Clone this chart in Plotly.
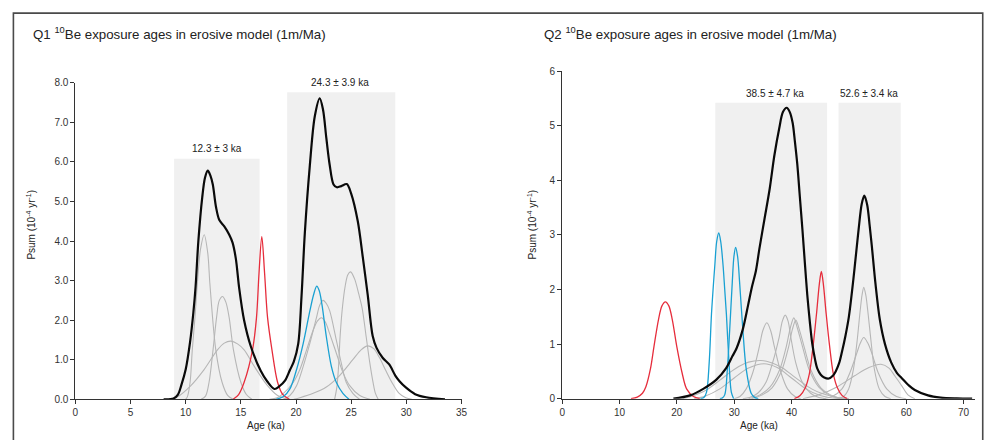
import plotly.graph_objects as go

# ---------------- Q1 data (ages in ka, Psum in 1e-4/yr) ----------------
q1_black_x = [8.0, 8.9, 9.3, 9.6, 10.0, 10.4, 10.7, 10.9, 11.15, 11.5, 11.75, 12.0, 12.25, 12.46, 12.75,
              13.05, 13.5, 13.95, 14.25, 14.55, 14.85, 15.3, 15.9, 16.8, 17.4, 18.05, 18.5, 19.0, 19.45,
              19.8, 20.2, 20.5, 20.8, 21.25, 21.7, 22.15, 22.45, 22.75, 23.05, 23.4, 23.7, 24.1, 24.6,
              25.0, 25.6, 26.05, 26.5, 26.95, 27.3, 27.85, 28.45, 29.0, 29.4, 29.95, 30.8, 31.8, 33.5]
q1_black_y = [0, 0.02, 0.12, 0.35, 0.75, 1.45, 2.2, 2.85, 4.0, 5.1, 5.6, 5.78, 5.65, 5.43, 4.86,
              4.53, 4.37, 4.16, 3.96, 3.55, 2.81, 1.99, 1.34, 0.72, 0.45, 0.26, 0.33, 0.47, 0.74,
              0.95, 1.4, 2.6, 4.2, 5.9, 7.15, 7.61, 7.32, 6.6, 5.93, 5.43, 5.36, 5.39, 5.44,
              5.2, 4.5, 3.6, 2.64, 1.6, 1.3, 1.05, 0.88, 0.6, 0.45, 0.3, 0.13, 0.05, 0]

q1_red_x = [[14.3, 14.8, 15.3, 16.06, 16.42, 16.65, 16.9, 17.15, 17.42, 17.82, 18.33, 18.8, 19.4]]
q1_red_y = [[0, 0.12, 0.43, 1.25, 2.07, 3.2, 4.11, 3.2, 2.07, 1.25, 0.43, 0.12, 0]]

q1_blue_x = [[18.2, 18.86, 19.46, 20.06, 20.66, 21.26, 21.6, 21.88, 22.1, 22.35, 22.75, 23.2, 23.65, 24.25, 24.8]]
q1_blue_y = [[0, 0.07, 0.27, 0.76, 1.42, 2.24, 2.65, 2.86, 2.75, 2.4, 1.58, 0.84, 0.43, 0.15, 0]]

q1_gray_x = [
    [10.0, 10.15, 10.4, 10.6, 10.85, 11.05, 11.35, 11.68, 12.0, 12.2, 12.73, 13.3, 13.8, 14.3],
    [11.4, 11.8, 12.12, 12.48, 12.8, 13.05, 13.35, 13.65, 13.94, 14.33, 15.0, 15.5, 16.0],
    [8.5, 9.24, 10.45, 11.67, 12.88, 13.5, 14.1, 14.7, 15.3, 16.2, 17.4, 18.3, 19.3],
    [18.9, 19.46, 20.06, 20.66, 21.26, 21.86, 22.15, 22.45, 22.75, 23.05, 23.65, 24.1, 24.55, 25.15, 25.75],
    [17.6, 18.3, 18.86, 19.76, 20.36, 20.96, 21.56, 21.95, 22.3, 22.65, 23.05, 23.65, 24.25, 24.85, 25.75, 26.7],
    [23.5, 23.7, 23.85, 24.0, 24.2, 24.45, 24.7, 24.95, 25.3, 25.7, 26.0, 26.35, 26.7, 27.0, 27.2, 27.45],
    [19.8, 20.36, 21.56, 22.75, 23.95, 25.15, 25.9, 26.5, 27.05, 27.55, 28.15, 28.75, 29.35, 29.95, 30.5],
]
q1_gray_y = [
    [0, 0.06, 0.43, 1.25, 2.1, 2.9, 3.8, 4.16, 3.7, 2.9, 1.25, 0.43, 0.1, 0],
    [0, 0.08, 0.43, 1.25, 2.07, 2.5, 2.6, 2.45, 2.07, 1.25, 0.43, 0.12, 0],
    [0, 0.06, 0.34, 0.75, 1.25, 1.42, 1.47, 1.4, 1.25, 0.84, 0.35, 0.1, 0],
    [0, 0.1, 0.35, 0.84, 1.42, 2.07, 2.38, 2.5, 2.42, 2.24, 1.5, 0.92, 0.43, 0.15, 0],
    [0, 0.04, 0.15, 0.43, 0.76, 1.25, 1.75, 1.98, 2.06, 1.96, 1.66, 1.17, 0.68, 0.35, 0.1, 0],
    [0, 0.3, 0.8, 1.6, 2.3, 2.85, 3.15, 3.22, 3.05, 2.65, 2.3, 1.6, 0.9, 0.4, 0.15, 0],
    [0, 0.04, 0.15, 0.31, 0.6, 1.0, 1.25, 1.35, 1.28, 1.06, 0.72, 0.4, 0.15, 0.04, 0],
]

q1_box_x0 = [8.95, 19.2]
q1_box_x1 = [16.7, 29.0]
q1_box_top = [6.08, 7.76]
q1_box_label = ["12.3 ± 3 ka", "24.3 ± 3.9 ka"]
q1_label_x = [12.8, 24.0]
q1_yticks = [0, 1, 2, 3, 4, 5, 6, 7, 8]
q1_xticks = [0, 5, 10, 15, 20, 25, 30, 35]

# ---------------- Q2 data ----------------
q2_black_x = [19.4, 22.3, 24.6, 26.9, 28.6, 29.7, 30.4, 31.5, 32.4, 33.1, 33.8, 34.4, 35.3, 36.2, 37.0,
              37.85, 38.5, 39.15, 39.7, 40.2, 40.6, 41.0, 41.45, 41.9, 42.35, 42.75, 43.2, 43.6, 44.1,
              44.5, 45.1, 45.7, 46.5, 47.2, 47.7, 48.3, 48.8, 49.4, 50.0, 50.8, 51.3, 51.7, 52.25, 52.7,
              53.2, 53.6, 54.0, 54.65, 55.4, 56.3, 57.4, 58.4, 59.2, 60.5, 61.5, 63.8, 66.0, 68.8, 71.5]
q2_black_y = [0, 0.06, 0.18, 0.35, 0.56, 0.78, 0.92, 1.27, 1.7, 2.05, 2.35, 2.75, 3.3, 3.85, 4.45,
              4.95, 5.25, 5.33, 5.25, 5.05, 4.7, 4.3, 3.7, 3.1, 2.45, 1.9, 1.4, 1.02, 0.72,
              0.55, 0.44, 0.39, 0.37, 0.42, 0.5, 0.65, 0.86, 1.15, 1.5, 2.2, 2.7, 3.1, 3.57, 3.72,
              3.55, 3.2, 2.8, 2.1, 1.45, 1.0, 0.66, 0.47, 0.38, 0.24, 0.16, 0.06, 0.02, 0.005, 0]

q2_red_x = [
    [12.0, 13.1, 14.0, 14.6, 15.4, 16.0, 16.8, 17.4, 18.0, 18.6, 19.2, 20.0, 20.9, 21.7, 22.9, 24.0],
    [40.5, 41.5, 42.4, 43.1, 43.8, 44.4, 44.85, 45.2, 45.55, 46.0, 46.6, 47.3, 48.0, 48.8, 49.7],
]
q2_red_y = [
    [0, 0.03, 0.1, 0.22, 0.55, 0.95, 1.45, 1.7, 1.775, 1.7, 1.45, 0.95, 0.48, 0.18, 0.04, 0],
    [0, 0.06, 0.2, 0.45, 1.0, 1.6, 2.1, 2.33, 2.1, 1.6, 1.0, 0.45, 0.2, 0.06, 0],
]

q2_blue_x = [
    [24.1, 24.72, 25.18, 25.64, 26.04, 26.35, 26.62, 26.95, 27.31, 27.65, 28.06, 28.35, 28.64, 29.1, 29.5, 29.9],
    [27.5, 27.9, 28.35, 28.81, 29.21, 29.67, 29.95, 30.25, 30.6, 30.94, 31.52, 32.1, 32.96, 33.6, 34.2],
]
q2_blue_y = [
    [0, 0.02, 0.12, 0.66, 1.55, 2.05, 2.44, 2.88, 3.035, 2.88, 2.44, 2.0, 1.55, 0.66, 0.12, 0],
    [0, 0.01, 0.07, 0.54, 1.25, 2.14, 2.6, 2.77, 2.6, 2.14, 1.25, 0.54, 0.1, 0.02, 0],
]

q2_gray_x = [
    [30.0, 31.0, 32.1, 33.25, 34.4, 35.0, 35.7, 36.35, 37.0, 38.15, 39.3, 40.6, 41.6],
    [31.5, 32.67, 34.1, 35.55, 36.7, 37.85, 38.4, 38.9, 39.4, 39.87, 40.73, 41.88, 43.33, 44.77, 46.0],
    [32.5, 34.5, 36.23, 37.96, 39.1, 39.8, 40.4, 41.0, 41.9, 43.05, 44.77, 46.5, 48.5],
    [33.0, 34.9, 36.6, 38.3, 39.45, 40.15, 40.75, 41.35, 42.25, 43.4, 45.1, 46.8, 48.8],
    [21.0, 22.7, 25.0, 27.4, 29.5, 30.8, 32.5, 34.6, 36.5, 38.3, 40.0, 41.8, 43.5, 45.2, 48.1, 50.0],
    [23.0, 25.0, 27.5, 30.0, 32.5, 35.2, 37.5, 40.0, 42.5, 45.0, 47.5, 50.0],
    [48.0, 49.1, 49.97, 50.8, 51.4, 51.97, 52.3, 52.6, 52.95, 53.3, 53.9, 54.45, 55.3, 56.3, 57.3],
    [45.5, 47.1, 48.8, 50.2, 51.4, 52.0, 52.6, 53.3, 53.98, 55.1, 56.6, 58.3, 60.0],
    [42.0, 45.0, 48.0, 51.0, 53.5, 55.6, 57.0, 58.0, 59.2, 60.3, 61.5],
]
q2_gray_y = [
    [0, 0.04, 0.18, 0.48, 0.96, 1.25, 1.39, 1.25, 0.96, 0.48, 0.18, 0.04, 0],
    [0, 0.02, 0.1, 0.3, 0.66, 1.13, 1.42, 1.53, 1.42, 1.13, 0.66, 0.3, 0.1, 0.02, 0],
    [0, 0.07, 0.21, 0.54, 0.96, 1.3, 1.48, 1.3, 0.96, 0.54, 0.21, 0.07, 0],
    [0, 0.07, 0.2, 0.52, 0.93, 1.27, 1.44, 1.27, 0.93, 0.52, 0.2, 0.07, 0],
    [0, 0.05, 0.15, 0.33, 0.5, 0.59, 0.67, 0.7, 0.66, 0.57, 0.44, 0.3, 0.18, 0.1, 0.02, 0],
    [0, 0.05, 0.18, 0.38, 0.56, 0.64, 0.57, 0.38, 0.18, 0.06, 0.01, 0],
    [0, 0.04, 0.18, 0.54, 1.02, 1.61, 1.9, 2.04, 1.9, 1.61, 1.02, 0.54, 0.18, 0.04, 0],
    [0, 0.04, 0.18, 0.48, 0.84, 1.02, 1.12, 1.02, 0.84, 0.48, 0.18, 0.04, 0],
    [0, 0.08, 0.22, 0.42, 0.57, 0.63, 0.56, 0.42, 0.24, 0.07, 0],
]

q2_box_x0 = [26.7, 48.2]
q2_box_x1 = [46.2, 59.05]
q2_box_top = [5.42, 5.42]
q2_box_label = ["38.5 ± 4.7 ka", "52.6 ± 3.4 ka"]
q2_label_x = [37.2, 53.5]
q2_yticks = [0, 1, 2, 3, 4, 5, 6]
q2_xticks = [0, 10, 20, 30, 40, 50, 60, 70]

titles = ["Q1 <sup>10</sup>Be exposure ages in erosive model (1m/Ma)",
          "Q2 <sup>10</sup>Be exposure ages in erosive model (1m/Ma)"]
y_title = "Psum (10<sup>-4</sup> yr<sup>-1</sup>)"
x_title = "Age (ka)"

# ---------------- styling ----------------
FONT = "Liberation Sans, Arial, sans-serif"
GRAY = "rgb(182,182,182)"
RED = "rgb(230,45,60)"
BLUE = "rgb(25,160,210)"
BLACK = "rgb(10,10,10)"
BOX = "rgb(240,240,240)"
W, H = 992, 440

fig = go.Figure()


def add_group(xs, ys, color, width, xa, ya):
    for x, y in zip(xs, ys):
        fig.add_trace(go.Scatter(x=x, y=y, mode="lines", xaxis=xa, yaxis=ya,
                                 line=dict(color=color, width=width, shape="spline", smoothing=0.9),
                                 hoverinfo="skip", showlegend=False))


add_group(q1_gray_x, q1_gray_y, GRAY, 1.1, "x", "y")
add_group(q1_red_x, q1_red_y, RED, 1.3, "x", "y")
add_group(q1_blue_x, q1_blue_y, BLUE, 1.3, "x", "y")
add_group([q1_black_x], [q1_black_y], BLACK, 2.2, "x", "y")

add_group(q2_gray_x, q2_gray_y, GRAY, 1.1, "x2", "y2")
add_group(q2_red_x, q2_red_y, RED, 1.3, "x2", "y2")
add_group(q2_blue_x, q2_blue_y, BLUE, 1.3, "x2", "y2")
add_group([q2_black_x], [q2_black_y], BLACK, 2.2, "x2", "y2")

shapes = []
annotations = []
for x0, x1, top in zip(q1_box_x0, q1_box_x1, q1_box_top):
    shapes.append(dict(type="rect", xref="x", yref="y", x0=x0, x1=x1, y0=0, y1=top,
                       fillcolor=BOX, line=dict(width=0), layer="below"))
for lx, top, txt in zip(q1_label_x, q1_box_top, q1_box_label):
    annotations.append(dict(x=lx, y=top, xref="x", yref="y", text=txt, showarrow=False,
                            yanchor="middle", yshift=10, font=dict(family=FONT, size=10, color="#222")))
for x0, x1, top in zip(q2_box_x0, q2_box_x1, q2_box_top):
    shapes.append(dict(type="rect", xref="x2", yref="y2", x0=x0, x1=x1, y0=0, y1=top,
                       fillcolor=BOX, line=dict(width=0), layer="below"))
for lx, top, txt in zip(q2_label_x, q2_box_top, q2_box_label):
    annotations.append(dict(x=lx, y=top, xref="x2", yref="y2", text=txt, showarrow=False,
                            yanchor="middle", yshift=9, font=dict(family=FONT, size=10, color="#222")))

# outer frame
shapes.append(dict(type="rect", xref="paper", yref="paper", x0=10.5 / W, x1=988.7 / W,
                   y0=-0.1, y1=1 - 7.3 / H, line=dict(color="#4a4a4a", width=1.6),
                   fillcolor="rgba(0,0,0,0)", layer="above"))

# titles
for tx, px in zip(titles, [28, 544]):
    annotations.append(dict(x=px / W, y=1 - 28 / H, xref="paper", yref="paper", text=tx,
                            showarrow=False, xanchor="left", yanchor="middle",
                            font=dict(family=FONT, size=13.3, color="#222")))
# axis titles
for px in [28, 533.5]:
    annotations.append(dict(x=px / W, y=1 - 225 / H, xref="paper", yref="paper", text=y_title,
                            showarrow=False, textangle=-90, xanchor="center", yanchor="middle",
                            font=dict(family=FONT, size=10, color="#222")))
for px in [265.7, 762.7]:
    annotations.append(dict(x=px / W, y=1 - 431 / H, xref="paper", yref="paper", text=x_title,
                            showarrow=False, xanchor="center", yanchor="middle",
                            font=dict(family=FONT, size=10, color="#222")))

axis_common = dict(showline=True, linecolor="#333", linewidth=1, ticks="outside", ticklen=4,
                   tickcolor="#333", tickwidth=1, showgrid=False, zeroline=False,
                   tickfont=dict(family=FONT, size=10, color="#333"), fixedrange=True)

fig.update_layout(
    width=W, height=H, margin=dict(l=0, r=0, t=0, b=0),
    paper_bgcolor="white", plot_bgcolor="rgba(0,0,0,0)", showlegend=False,
    xaxis=dict(domain=[73 / W, 462.7 / W], range=[0, 35], tickvals=q1_xticks, anchor="y", **axis_common),
    yaxis=dict(domain=[1 - 404.3 / H, 1 - 79 / H], range=[0, 8], tickvals=q1_yticks,
               tickformat=".1f", anchor="x", **axis_common),
    xaxis2=dict(domain=[564.3 / W, 980.9 / W], range=[0, 72], tickvals=q2_xticks, anchor="y2", **axis_common),
    yaxis2=dict(domain=[1 - 403.7 / H, 1 - 67 / H], range=[0, 6], tickvals=q2_yticks,
                anchor="x2", **axis_common),
    shapes=shapes, annotations=annotations,
)

fig.write_html("out.html", config={"displayModeBar": False},
               post_script="document.body.style.margin='0';document.body.style.padding='0';"
                           "document.body.style.overflow='hidden';")
